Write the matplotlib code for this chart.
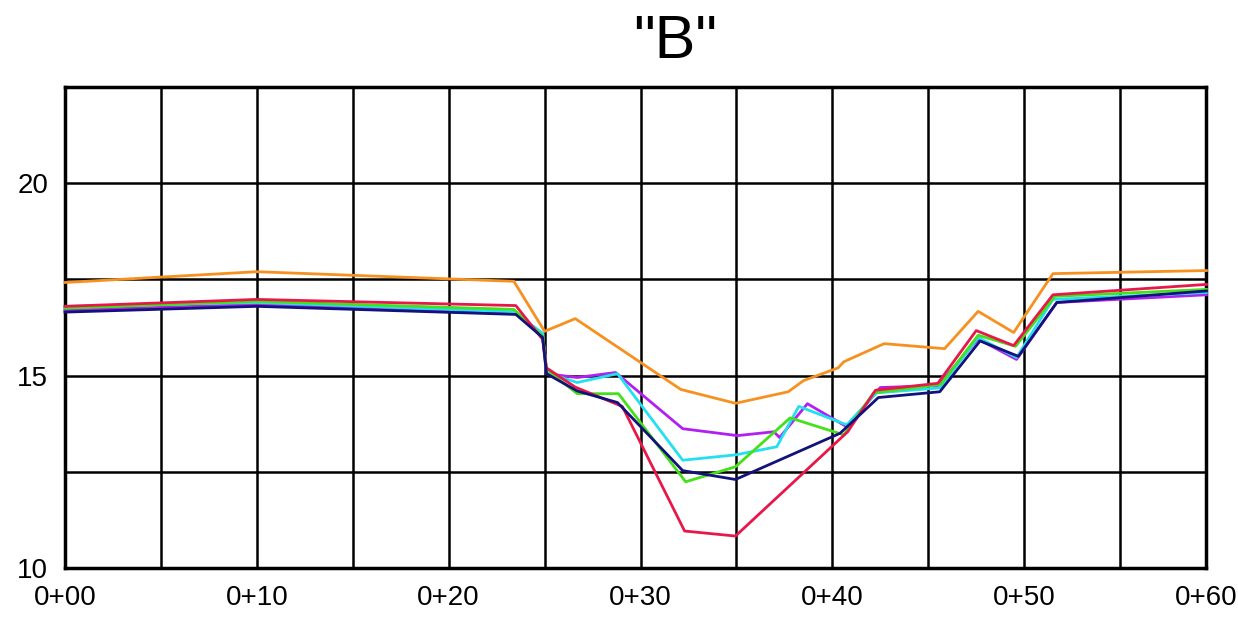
import numpy as np
import matplotlib
matplotlib.use("Agg")
from matplotlib import pyplot as plt

# stations and elevations of each cross-section line
orange_x = [0, 10, 23.4, 25.0, 26.6, 32.1, 34.95, 37.7, 38.5, 40.3, 40.6, 42.7, 45.85, 47.6, 49.45, 51.5, 59.5]
orange_y = [17.42, 17.7, 17.45, 16.15, 16.48, 14.64, 14.28, 14.58, 14.87, 15.2, 15.36, 15.83, 15.7, 16.67, 16.12, 17.65, 17.73]

purple_x = [0, 10, 23.5, 24.9, 25.1, 26.7, 28.7, 32.2, 35.05, 36.95, 37.25, 38.7, 40.75, 42.5, 45.5, 47.6, 49.6, 51.7, 59.5]
purple_y = [16.7, 16.85, 16.62, 16.0, 15.05, 14.95, 15.08, 13.62, 13.44, 13.54, 13.39, 14.27, 13.67, 14.69, 14.74, 15.95, 15.42, 16.9, 17.1]

cyan_x = [0, 10, 23.4, 24.9, 25.1, 26.7, 28.8, 32.2, 34.95, 37.1, 38.25, 40.75, 42.3, 45.6, 47.6, 49.6, 51.5, 59.5]
cyan_y = [16.8, 16.9, 16.66, 16.1, 15.08, 14.82, 15.05, 12.8, 12.94, 13.15, 14.2, 13.72, 14.55, 14.68, 15.99, 15.47, 16.98, 17.16]

green_x = [0, 10, 23.4, 24.9, 25.1, 26.7, 28.85, 32.35, 34.95, 37.8, 40.6, 42.15, 45.65, 47.6, 49.55, 51.6, 59.5]
green_y = [16.75, 16.93, 16.72, 16.02, 15.16, 14.53, 14.53, 12.24, 12.63, 13.9, 13.46, 14.55, 14.77, 16.05, 15.76, 17.06, 17.24]

red_x = [0, 10, 23.5, 24.9, 25.1, 26.6, 29.05, 32.3, 34.95, 40.8, 42.25, 45.5, 47.5, 49.45, 51.5, 59.5]
red_y = [16.8, 16.98, 16.82, 15.94, 15.2, 14.7, 14.2, 10.96, 10.83, 13.54, 14.62, 14.8, 16.17, 15.78, 17.1, 17.37]

navy_x = [0, 10, 23.5, 24.9, 25.1, 26.7, 28.8, 32.2, 34.95, 40.4, 42.4, 45.6, 47.7, 49.7, 51.7, 59.5]
navy_y = [16.65, 16.8, 16.59, 15.99, 15.05, 14.6, 14.3, 12.53, 12.3, 13.5, 14.43, 14.58, 15.9, 15.5, 16.9, 17.2]

tick_pos = [0, 10, 20, 30, 40, 50, 59.5]
tick_labels = ["0+00", "0+10", "0+20", "0+30", "0+40", "0+50", "0+60"]
ytick_pos = [10, 15, 20]

plt.rcParams['font.family'] = ['Liberation Sans', 'DejaVu Sans']

fig = plt.figure(figsize=(12.38, 6.32), dpi=100)
ax = fig.add_axes([0.0525, 0.1013, 0.922, 0.761])

series = [
    (orange_x, orange_y, "#F7901E"),
    (purple_x, purple_y, "#B020F0"),
    (cyan_x, cyan_y, "#22E0F0"),
    (green_x, green_y, "#44E01A"),
    (red_x, red_y, "#E8174A"),
    (navy_x, navy_y, "#12127A"),
]
for xs, ys, c in series:
    ax.plot(xs, ys, color=c, lw=2.0, clip_on=False, zorder=3)

ax.set_xlim(0, 59.5)
ax.set_ylim(10, 22.5)
ax.set_xticks(tick_pos)
ax.set_xticklabels(tick_labels)
ax.set_yticks(ytick_pos)
ax.set_xticks(np.arange(5, 60, 10), minor=True)
ax.set_yticks([12.5, 17.5, 22.5], minor=True)
ax.grid(which="both", color="black", lw=1.8)
ax.tick_params(which="both", length=0, labelsize=20, pad=12)
ax.tick_params(axis="y", pad=12)
for s in ax.spines.values():
    s.set_linewidth(2.5)
    s.set_color("black")

fig.text(0.545, 0.932, '"B"', ha="center", va="center", fontsize=44)

plt.savefig("out.png", dpi=100)
plt.close('all')
